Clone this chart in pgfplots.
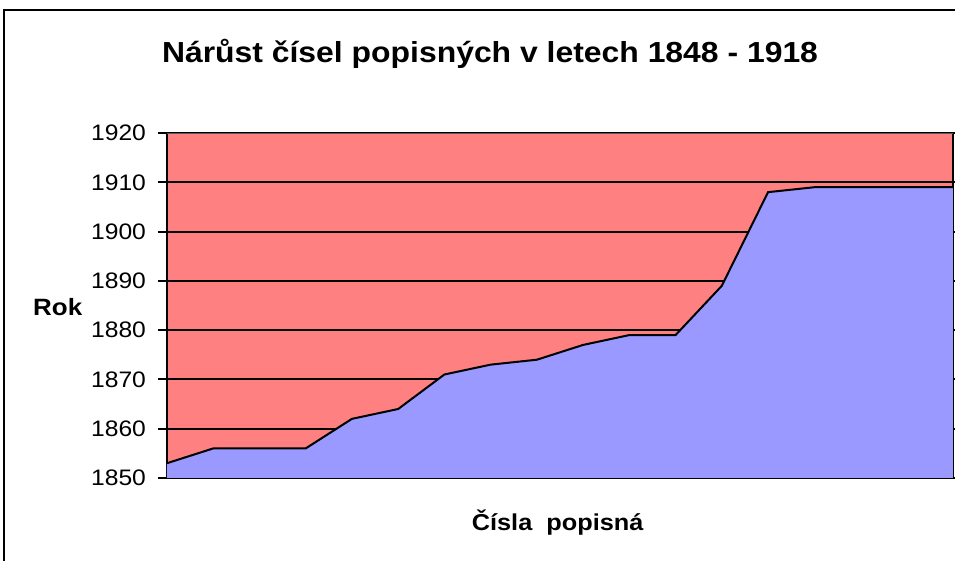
\documentclass[border=0pt]{standalone}
\usepackage{pgfplots}
\pgfplotsset{compat=1.18}
\usepackage{fontspec}
\setmainfont{Liberation Sans}[FakeStretch=1.1]
\definecolor{bgpink}{HTML}{FF8080}
\definecolor{areablue}{HTML}{9999FF}
\begin{document}
\begin{tikzpicture}
\useasboundingbox (0,0) rectangle (477.5pt,280.5pt);
\draw[line width=1pt] (2pt,-2pt) -- (2pt,275.5pt) -- (480pt,275.5pt);
\begin{axis}[
  at={(83.5pt,41.5pt)}, anchor=south west,
  scale only axis, width=393pt, height=172.5pt,
  xmin=0, xmax=17, ymin=1850, ymax=1920,
  xtick=\empty,
  ytick={1850,1860,...,1920},
  /pgf/number format/assume math mode=true,
  /pgf/number format/set thousands separator={},
  yticklabel style={font=\fontsize{11.2}{13}\selectfont, xshift=-2.5pt},
  tick align=outside, major tick length=4.5pt,
  tick style={black, line width=1pt},
  ymajorgrids, grid style={black, line width=1pt},
  axis background/.style={fill=bgpink},
  axis line style={black, line width=1pt},
  clip=true,
  title={\bfseries Nárůst čísel popisných v letech 1848 - 1918},
  title style={font=\fontsize{14.5}{17}\selectfont, at={(rel axis cs:0.411,1.232)}, anchor=center, yshift=-6.5pt},
  xlabel={\bfseries Čísla\ \ popisná},
  xlabel style={font=\fontsize{11.5}{13}\selectfont, at={(rel axis cs:0.497,-0.128)}, anchor=center},
  ylabel={\bfseries Rok},
  ylabel style={font=\fontsize{11.8}{13}\selectfont, rotate=-90, at={(rel axis cs:-0.139,0.496)}, anchor=center},
]
\addplot[fill=areablue, draw=none] coordinates {
(0,1853) (1,1856) (2,1856) (3,1856) (4,1862) (5,1864) (6,1871) (7,1873) (8,1874)
(9,1877) (10,1879) (11,1879) (12,1889) (13,1908) (14,1909) (15,1909) (16,1909) (17,1909)
} \closedcycle;
\addplot[black, line width=1pt] coordinates {
(0,1853) (1,1856) (2,1856) (3,1856) (4,1862) (5,1864) (6,1871) (7,1873) (8,1874)
(9,1877) (10,1879) (11,1879) (12,1889) (13,1908) (14,1909) (15,1909) (16,1909) (17,1909)
};
\draw[gray!70!black, line width=0.7pt] (rel axis cs:0,1) -- (rel axis cs:1,1);
\end{axis}
\end{tikzpicture}
\end{document}
